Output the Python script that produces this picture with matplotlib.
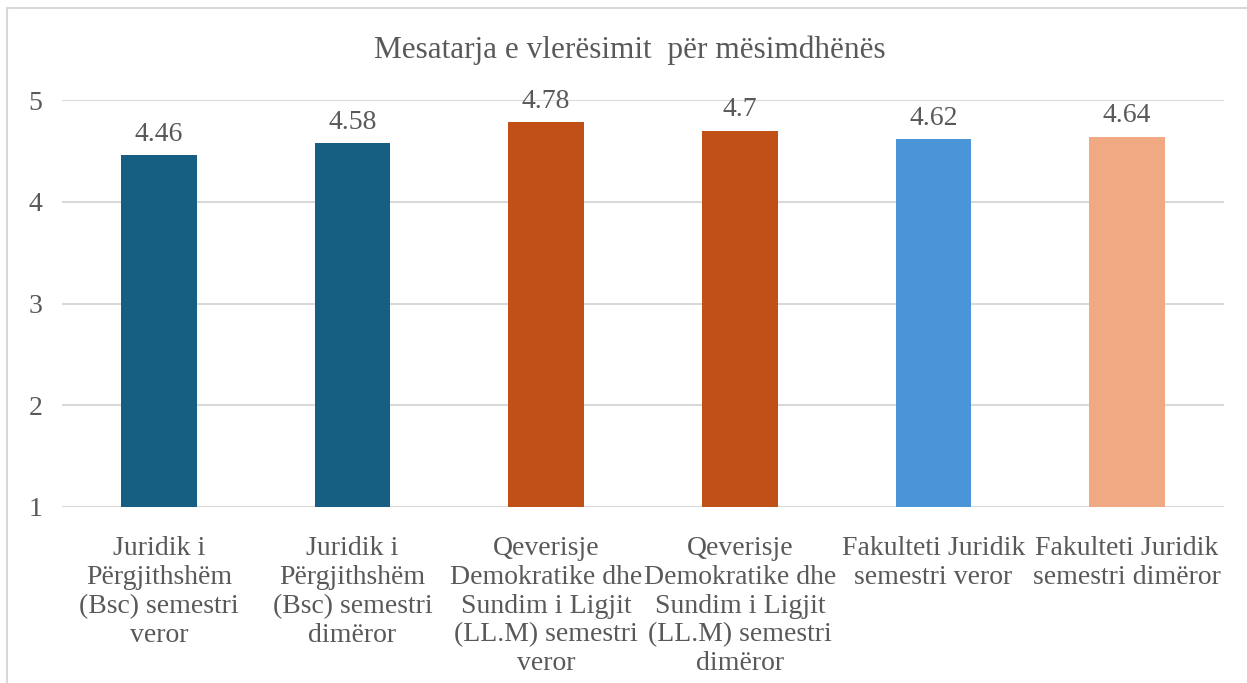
import matplotlib.pyplot as plt
from matplotlib.patches import Rectangle

categories = [
    "Juridik i\nPërgjithshëm\n(Bsc) semestri\nveror",
    "Juridik i\nPërgjithshëm\n(Bsc) semestri\ndimëror",
    "Qeverisje\nDemokratike dhe\nSundim i Ligjit\n(LL.M) semestri\nveror",
    "Qeverisje\nDemokratike dhe\nSundim i Ligjit\n(LL.M) semestri\ndimëror",
    "Fakulteti Juridik\nsemestri veror",
    "Fakulteti Juridik\nsemestri dimëror",
]
values = [4.46, 4.58, 4.78, 4.7, 4.62, 4.64]
colors = ["#165E82", "#165E82", "#C05016", "#C05016", "#4A94D8", "#F1A983"]
yticks = [1, 2, 3, 4, 5]

plt.rcParams['font.family'] = ['Liberation Serif', 'DejaVu Serif']
txt = '#595959'

fig = plt.figure(figsize=(12.47, 6.83), dpi=100)
ax = fig.add_axes([62/1247, 1 - 507/683, 1162/1247, 407/683])

x = range(len(values))
bars = ax.bar(x, values, width=0.39, color=colors, bottom=0)
for b, v in zip(bars, values):
    ax.text(b.get_x() + b.get_width()/2, v + 0.08, f"{v:g}", ha='center',
            va='bottom', fontsize=20, color=txt)

ax.set_ylim(1, 5)
ax.set_xlim(-0.5, len(values) - 0.5)
ax.set_yticks(yticks)
ax.set_xticks(list(x))
ax.set_xticklabels(categories, fontsize=20, color=txt, linespacing=1.2)
ax.tick_params(axis='y', labelsize=20, labelcolor=txt, length=0, pad=14)
ax.tick_params(axis='x', length=0, pad=21)
ax.yaxis.grid(True, color='#D9D9D9', linewidth=1.5)
ax.set_axisbelow(True)
for s in ax.spines.values():
    s.set_visible(False)

fig.text(630/1247, 1 - 50/683, "Mesatarja e vlerësimit  për mësimdhënës",
         ha='center', va='center', fontsize=22.5, color=txt)

fig.patches.append(Rectangle((7/1247, -0.1), 2, 1.1 - 8/683, transform=fig.transFigure,
                             fill=False, edgecolor='#D9D9D9', linewidth=1.5))

fig.savefig('out.png', dpi=100)
